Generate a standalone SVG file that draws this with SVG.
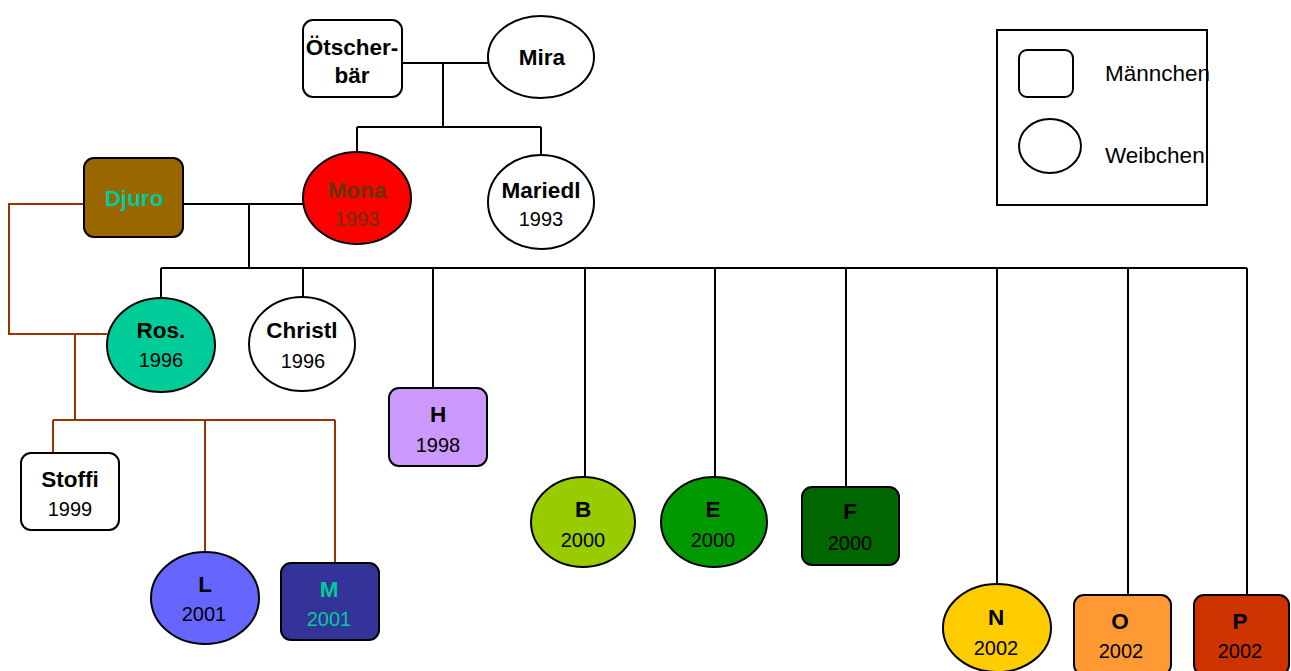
<svg xmlns="http://www.w3.org/2000/svg" width="1291" height="671" viewBox="0 0 1291 671">
<style>
.n{stroke:#000;stroke-width:2}
.b{font-family:"Liberation Sans",Arial,sans-serif;font-weight:bold;font-size:22.5px;text-anchor:middle;fill:#000}
.y{font-family:"Liberation Sans",Arial,sans-serif;font-size:20px;text-anchor:middle;fill:#000}
.l{font-family:"Liberation Sans",Arial,sans-serif;font-size:22.5px;fill:#000}
.c{fill:none;stroke:#000;stroke-width:2}
.r{fill:none;stroke:#993300;stroke-width:2}
</style>
<rect width="1291" height="671" fill="#fff"/>
<g id="connectors">
<path class="c" d="M402 63H488M443 63V127M357 127H541M357 127V152M541 127V155"/>
<path class="c" d="M183 204H303M249 204V268M161 268H1247M161 268V299M303 268V297M433 268V388M585 268V477M715 268V477M846 268V487M997 268V584M1128 268V595M1247 268V595"/>
<path class="r" d="M84 204H9V334H107M75 334V420M53 420H335M53 420V453M205 420V552M335 420V563"/>
</g>
<g id="oetscherbaer"><rect class="n" x="303" y="20" width="99" height="77" rx="10" fill="#fff"/><text class="b" x="352" y="55">Ötscher-</text><text class="b" x="352" y="83">bär</text></g>
<g id="mira"><ellipse class="n" cx="541" cy="57" rx="53" ry="41" fill="#fff"/><text class="b" x="542" y="65">Mira</text></g>
<g id="mona"><ellipse class="n" cx="357" cy="198" rx="54" ry="46" fill="#f00"/><text class="b" x="357" y="198" style="fill:#663300">Mona</text><text class="y" x="357" y="226" style="fill:#663300">1993</text></g>
<g id="mariedl"><ellipse class="n" cx="541" cy="202" rx="53" ry="47" fill="#fff"/><text class="b" x="541" y="198">Mariedl</text><text class="y" x="541" y="226">1993</text></g>
<g id="djuro"><rect class="n" x="84" y="158" width="99" height="79" rx="10" fill="#996600"/><text class="b" x="134" y="206" style="fill:#00cc99">Djuro</text></g>
<g id="ros"><ellipse class="n" cx="161" cy="345" rx="54" ry="47" fill="#00cc99"/><text class="b" x="161" y="338">Ros.</text><text class="y" x="161" y="367">1996</text></g>
<g id="christl"><ellipse class="n" cx="302" cy="344" rx="53" ry="47" fill="#fff"/><text class="b" x="302" y="338">Christl</text><text class="y" x="303" y="368">1996</text></g>
<g id="h"><rect class="n" x="389" y="388" width="98" height="78" rx="10" fill="#cc99ff"/><text class="b" x="438" y="422">H</text><text class="y" x="438" y="452">1998</text></g>
<g id="stoffi"><rect class="n" x="21" y="453" width="98" height="77" rx="10" fill="#fff"/><text class="b" x="70" y="487">Stoffi</text><text class="y" x="70" y="516">1999</text></g>
<g id="b"><ellipse class="n" cx="583" cy="522" rx="52" ry="45" fill="#99cc00"/><text class="b" x="583" y="517">B</text><text class="y" x="583" y="547">2000</text></g>
<g id="e"><ellipse class="n" cx="714" cy="522" rx="53" ry="45" fill="#009900"/><text class="b" x="713" y="517">E</text><text class="y" x="713" y="547">2000</text></g>
<g id="f"><rect class="n" x="802" y="487" width="97" height="78" rx="10" fill="#006600"/><text class="b" x="850" y="519">F</text><text class="y" x="850" y="550">2000</text></g>
<g id="l"><ellipse class="n" cx="205" cy="598" rx="54" ry="46" fill="#6666ff"/><text class="b" x="205" y="592">L</text><text class="y" x="204" y="621">2001</text></g>
<g id="m"><rect class="n" x="281" y="563" width="98" height="77" rx="10" fill="#333399"/><text class="b" x="329" y="597" style="fill:#00cc99">M</text><text class="y" x="329" y="626" style="fill:#00cc99">2001</text></g>
<g id="n"><ellipse class="n" cx="997" cy="628" rx="54" ry="44" fill="#ffcc00"/><text class="b" x="996" y="625">N</text><text class="y" x="996" y="655">2002</text></g>
<g id="o"><rect class="n" x="1074" y="595" width="97" height="80" rx="10" fill="#ff9933"/><text class="b" x="1120" y="629">O</text><text class="y" x="1121" y="658">2002</text></g>
<g id="p"><rect class="n" x="1194" y="595" width="95" height="80" rx="10" fill="#cc3300"/><text class="b" x="1240" y="629">P</text><text class="y" x="1240" y="658">2002</text></g>
<g id="legend"><rect x="997" y="30" width="210" height="175" fill="#fff" stroke="#000" stroke-width="2"/><rect class="n" x="1019" y="50" width="54" height="47" rx="8" fill="#fff"/><ellipse class="n" cx="1050" cy="146" rx="31" ry="27" fill="#fff"/><text class="l" x="1105" y="81">Männchen</text><text class="l" x="1105" y="163">Weibchen</text></g>
</svg>
